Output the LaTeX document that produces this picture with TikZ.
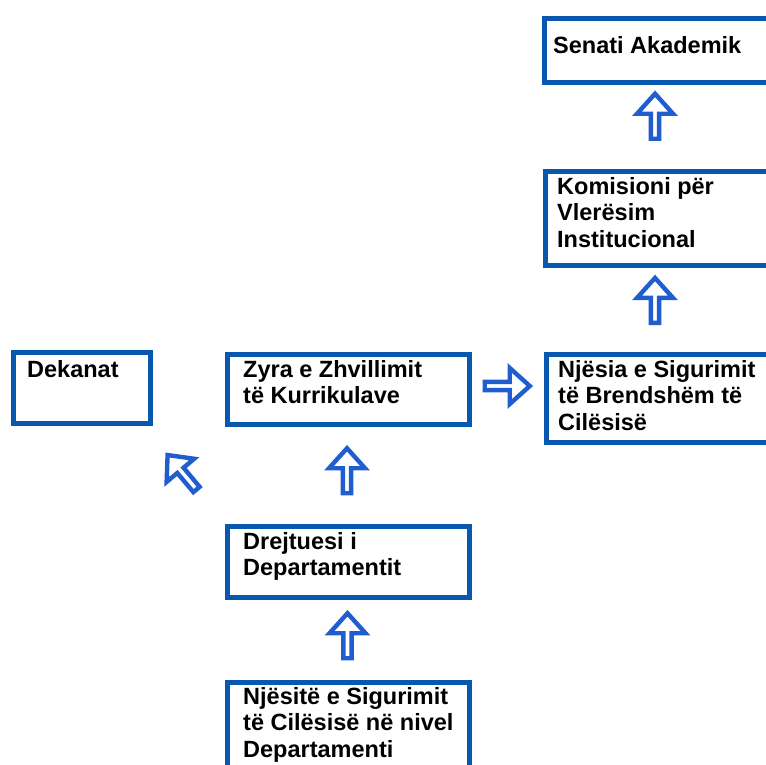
\documentclass[tikz,border=0pt]{standalone}
\usepackage{fontspec}
\setmainfont{Liberation Sans}
\usetikzlibrary{shapes.arrows}
\definecolor{boxblue}{RGB}{8,88,176}
\definecolor{arrowblue}{RGB}{32,94,208}
\begin{document}
\begin{tikzpicture}[x=1pt,y=-1pt,
  box/.style={draw=boxblue, line width=5pt, rectangle, inner sep=0pt, anchor=north west},
  boxtext/.style={anchor=base west, align=left, inner sep=0pt, font=\fontsize{23.5}{26.8}\selectfont\bfseries},
  blockarrow/.style={single arrow, draw=arrowblue, fill=white, line width=4.4pt,
    minimum height=45pt, minimum width=36pt, single arrow head extend=7.5pt,
    single arrow tip angle=84, inner sep=0pt}]
\useasboundingbox (0,0) rectangle (766,764);
\clip (0,0) rectangle (766,764);
% boxes
\node[box, minimum width=228pt, minimum height=64pt] (senati) at (542,16) {};
\node[box, minimum width=228pt, minimum height=94pt] (komisioni) at (543,169) {};
\node[box, minimum width=228pt, minimum height=88pt] (njesia) at (544,352) {};
\node[box, minimum width=242pt, minimum height=70pt] (zyra) at (225,352) {};
\node[box, minimum width=137pt, minimum height=71pt] (dekanat) at (11,350) {};
\node[box, minimum width=242pt, minimum height=71pt] (drejtuesi) at (225,524) {};
\node[box, minimum width=242pt, minimum height=110pt] (njesite) at (225,680) {};
% texts (anchored at the baseline of the last line)
\node[boxtext] (senati-t) at (553,53) {Senati Akademik};
\node[boxtext] (komisioni-t) at (557,247.6) {Komisioni për\\Vlerësim\\Institucional};
\node[boxtext] (njesia-t) at (558,430.6) {Njësia e Sigurimit\\të Brendshëm të\\Cilësisë};
\node[boxtext] (zyra-t) at (243,403.8) {Zyra e Zhvillimit\\të Kurrikulave};
\node[boxtext] (dekanat-t) at (27,377) {Dekanat};
\node[boxtext] (drejtuesi-t) at (243,575.8) {Drejtuesi i\\Departamentit};
\node[boxtext] (njesite-t) at (243,757.6) {Njësitë e Sigurimit\\të Cilësisë në nivel\\Departamenti};
% block arrows
\node[blockarrow, rotate=90] (a1) at (655,118.5) {};
\node[blockarrow, rotate=90] (a2) at (655,302.7) {};
\node[blockarrow] (a3) at (505,386) {};
\node[blockarrow, rotate=90] (a4) at (347,473) {};
\node[blockarrow, rotate=90] (a5) at (347.5,638) {};
\node[blockarrow, rotate=130] (a6) at (183.5,474) {};
\end{tikzpicture}
\end{document}
